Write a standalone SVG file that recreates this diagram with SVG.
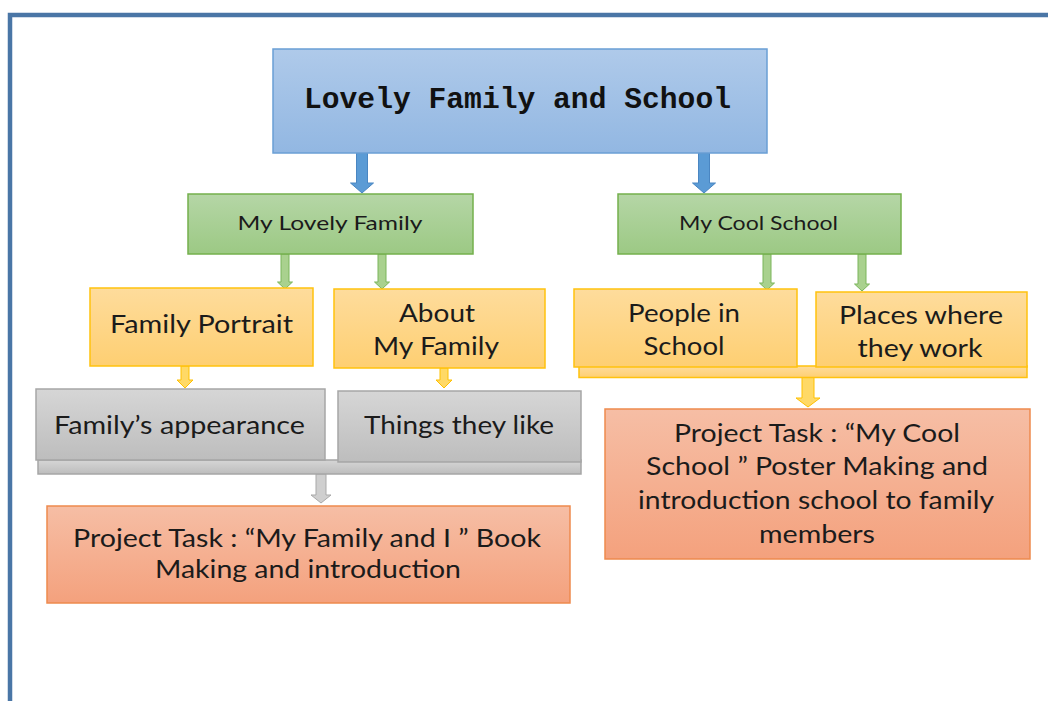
<svg xmlns="http://www.w3.org/2000/svg" width="1048" height="701" viewBox="0 0 1048 701">
<defs>
<linearGradient id="gBlue" x1="0" y1="0" x2="0" y2="1"><stop offset="0" stop-color="#afcaea"/><stop offset="1" stop-color="#92b7e2"/></linearGradient>
<linearGradient id="gGreen" x1="0" y1="0" x2="0" y2="1"><stop offset="0" stop-color="#b5d6a6"/><stop offset="1" stop-color="#9cc984"/></linearGradient>
<linearGradient id="gYellow" x1="0" y1="0" x2="0" y2="1"><stop offset="0" stop-color="#fedc9c"/><stop offset="1" stop-color="#fecf72"/></linearGradient>
<linearGradient id="gGray" x1="0" y1="0" x2="0" y2="1"><stop offset="0" stop-color="#d6d6d6"/><stop offset="1" stop-color="#bdbdbd"/></linearGradient>
<linearGradient id="gOrange" x1="0" y1="0" x2="0" y2="1"><stop offset="0" stop-color="#f6bea5"/><stop offset="1" stop-color="#f4a17d"/></linearGradient>
</defs>
<style>
.blue{fill:url(#gBlue);stroke:#6a9fd5;stroke-width:1.5}
.green{fill:url(#gGreen);stroke:#74b04c;stroke-width:1.5}
.yellow{fill:url(#gYellow);stroke:#ffc20e;stroke-width:1.5}
.gray{fill:url(#gGray);stroke:#a6a6a6;stroke-width:1.5}
.orange{fill:url(#gOrange);stroke:#ee8a4e;stroke-width:1.5}
.aBlue{fill:#5b9bd5;stroke:#4a86c2;stroke-width:1}
.aGreen{fill:#a9d18e;stroke:#7ab55a;stroke-width:1}
.aYellow{fill:#ffd966;stroke:#ffc000;stroke-width:1}
.aGray{fill:#cfcfcf;stroke:#a9a9a9;stroke-width:1}
.t{font-family:"Lato","Open Sans",sans-serif;fill:#1b1b1b;text-anchor:middle;font-size:25px}
.ts{font-size:19px}
.title{font-family:"Liberation Mono","DejaVu Sans Mono",monospace;font-weight:bold;font-size:30px;fill:#111}
</style>
<rect width="1048" height="701" fill="#ffffff"/>
<path d="M10,701 V15 H1048" fill="none" stroke="#4a76a6" stroke-width="4.5"/>

<g id="connectors">
<polygon class="aBlue" points="356.5,153 367.5,153 367.5,183 373.5,183 362,193 350.5,183 356.5,183"/>
<polygon class="aBlue" points="698.5,153 709.5,153 709.5,183 715.5,183 704,193 692.5,183 698.5,183"/>
<polygon class="aGreen" points="281,254 289,254 289,282 292.5,282 285,289 277.5,282 281,282"/>
<polygon class="aGreen" points="378,254 386,254 386,282 389.5,282 382,289 374.5,282 378,282"/>
<polygon class="aGreen" points="763,254 771,254 771,283 774.5,283 767,290 759.5,283 763,283"/>
<polygon class="aGreen" points="858,254 866,254 866,284 869.5,284 862,291 854.5,284 858,284"/>
<polygon class="aYellow" points="181,366 189,366 189,380 193,380 185,388 177,380 181,380"/>
<polygon class="aYellow" points="440,368 448,368 448,380 452,380 444,388 436,380 440,380"/>
<polygon class="aYellow" points="802,377 814,377 814,398 820,398 808,407 796,398 802,398"/>
<polygon class="aGray" points="316,474 326,474 326,495 331,495 321,503 311,495 316,495"/>
</g>

<g id="title">
<rect class="blue" x="273" y="49" width="494" height="104"/>
<text class="title" x="304" y="108" textLength="427" lengthAdjust="spacingAndGlyphs">Lovely Family and School</text>
</g>

<g id="my-lovely-family">
<rect class="green" x="188" y="194" width="285" height="60"/>
<text class="t ts" x="330" y="230" textLength="185" lengthAdjust="spacingAndGlyphs">My Lovely Family</text>
</g>

<g id="my-cool-school">
<rect class="green" x="618" y="194" width="283" height="60"/>
<text class="t ts" x="758.5" y="230" textLength="159" lengthAdjust="spacingAndGlyphs">My Cool School</text>
</g>

<g id="family-portrait">
<rect class="yellow" x="90" y="288" width="223" height="78"/>
<text class="t" x="201.5" y="333" textLength="183" lengthAdjust="spacingAndGlyphs">Family Portrait</text>
</g>

<g id="about-my-family">
<rect class="yellow" x="334" y="289" width="211" height="79"/>
<text class="t" x="437" y="322" textLength="76" lengthAdjust="spacingAndGlyphs">About</text>
<text class="t" x="436" y="355" textLength="126" lengthAdjust="spacingAndGlyphs">My Family</text>
</g>

<g id="school-bar">
<rect class="yellow" x="579" y="366" width="448" height="11.5"/>
</g>

<g id="people-in-school">
<rect class="yellow" x="574" y="289" width="223" height="78"/>
<text class="t" x="684" y="322" textLength="112" lengthAdjust="spacingAndGlyphs">People in</text>
<text class="t" x="684" y="355" textLength="81" lengthAdjust="spacingAndGlyphs">School</text>
</g>

<g id="places-where-they-work">
<rect class="yellow" x="816" y="292" width="211" height="75"/>
<text class="t" x="921" y="324" textLength="164" lengthAdjust="spacingAndGlyphs">Places where</text>
<text class="t" x="920" y="357" textLength="125" lengthAdjust="spacingAndGlyphs">they work</text>
</g>

<g id="family-bar">
<rect class="gray" x="38" y="460" width="543" height="14"/>
</g>

<g id="familys-appearance">
<rect class="gray" x="36" y="389" width="289" height="71"/>
<text class="t" x="179.5" y="434" textLength="251" lengthAdjust="spacingAndGlyphs">Family’s appearance</text>
</g>

<g id="things-they-like">
<rect class="gray" x="338" y="391" width="243" height="71"/>
<text class="t" x="459" y="434" textLength="190" lengthAdjust="spacingAndGlyphs">Things they like</text>
</g>

<g id="project-family">
<rect class="orange" x="47" y="506" width="523" height="97"/>
<text class="t" x="307" y="547" textLength="468" lengthAdjust="spacingAndGlyphs">Project Task : “My Family and I ” Book</text>
<text class="t" x="308" y="578" textLength="306" lengthAdjust="spacingAndGlyphs">Making and introduction</text>
</g>

<g id="project-school">
<rect class="orange" x="605" y="409" width="425" height="150"/>
<text class="t" x="817" y="442" textLength="286" lengthAdjust="spacingAndGlyphs">Project Task : “My Cool</text>
<text class="t" x="817" y="475" textLength="342" lengthAdjust="spacingAndGlyphs">School ” Poster Making and</text>
<text class="t" x="816" y="509" textLength="356" lengthAdjust="spacingAndGlyphs">introduction school to family</text>
<text class="t" x="817" y="543" textLength="116" lengthAdjust="spacingAndGlyphs">members</text>
</g>
</svg>
